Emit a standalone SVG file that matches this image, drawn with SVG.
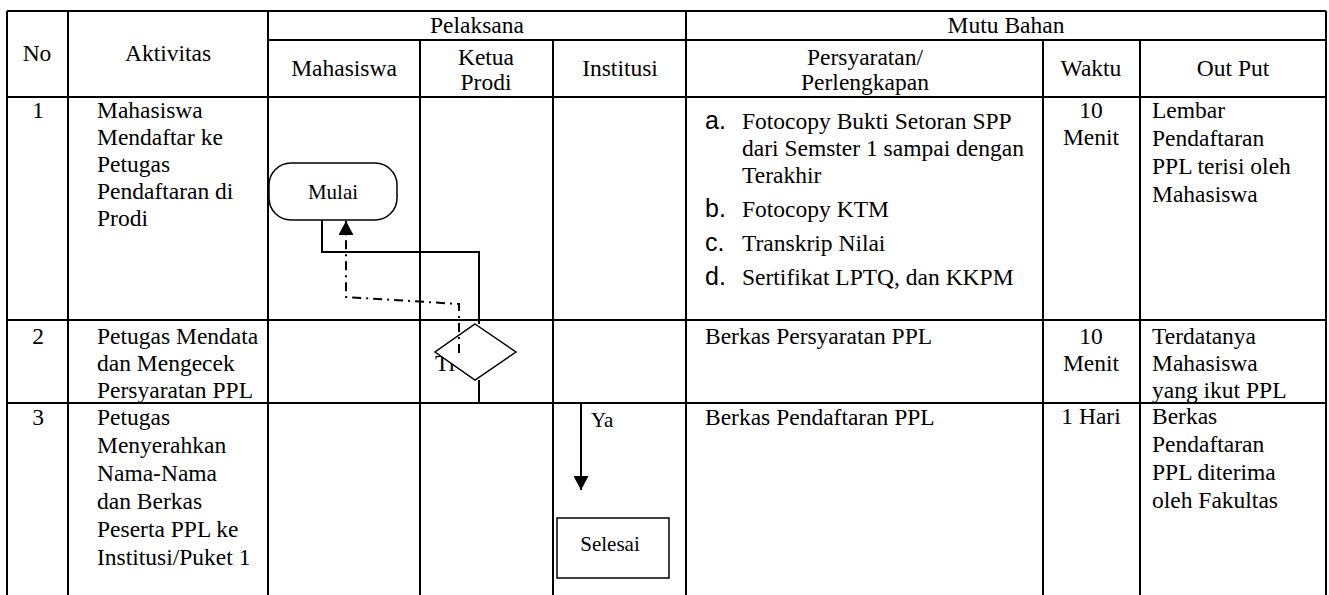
<svg xmlns="http://www.w3.org/2000/svg" width="1329" height="595" viewBox="0 0 1329 595">
<style>
text{font-family:"Liberation Serif","Times New Roman",serif;font-size:23.5px;fill:#000}
.c{text-anchor:middle}
.grid line{stroke:#000;stroke-width:2}
.mk{font-family:"Liberation Sans",Arial,sans-serif;font-size:25px}
.node{fill:#fff;stroke:#000;stroke-width:1.5}
.conn{fill:none;stroke:#000;stroke-width:2}
.dd{stroke-dasharray:9 5 2 5}
.sm{font-size:21px}
</style>
<defs>
<marker id="arr" viewBox="0 0 14 15" refX="14" refY="7.5" markerWidth="14" markerHeight="15" markerUnits="userSpaceOnUse" orient="auto"><path d="M0,0 L14,7.5 L0,15 z" fill="#000"/></marker>
</defs>
<rect width="1329" height="595" fill="#fff"/>
<g id="table" class="grid">
<line x1="7" y1="11" x2="1326" y2="11"/>
<line x1="268" y1="40" x2="1326" y2="40"/>
<line x1="7" y1="97" x2="1326" y2="97"/>
<line x1="7" y1="320" x2="1326" y2="320"/>
<line x1="7" y1="403" x2="1326" y2="403"/>
<line x1="7" y1="11" x2="7" y2="595"/>
<line x1="68" y1="11" x2="68" y2="595"/>
<line x1="268" y1="11" x2="268" y2="595"/>
<line x1="686" y1="11" x2="686" y2="595"/>
<line x1="1326" y1="11" x2="1326" y2="595"/>
<line x1="420" y1="40" x2="420" y2="595"/>
<line x1="553" y1="40" x2="553" y2="595"/>
<line x1="1043" y1="40" x2="1043" y2="595"/>
<line x1="1140" y1="40" x2="1140" y2="595"/>
</g>
<g id="header">
<text class="c" x="37" y="61">No</text>
<text class="c" x="168" y="61">Aktivitas</text>
<text class="c" x="477" y="33">Pelaksana</text>
<text class="c" x="1006" y="33">Mutu Bahan</text>
<text class="c" x="344" y="76">Mahasiswa</text>
<text class="c" x="486" y="65">Ketua</text>
<text class="c" x="486" y="90">Prodi</text>
<text class="c" x="620" y="76">Institusi</text>
<text class="c" x="865" y="65">Persyaratan/</text>
<text class="c" x="865" y="90">Perlengkapan</text>
<text class="c" x="1091" y="76">Waktu</text>
<text class="c" x="1233" y="76">Out Put</text>
</g>
<g id="row1">
<text class="c" x="38" y="118">1</text>
<text x="97" y="118">Mahasiswa</text>
<text x="97" y="145">Mendaftar ke</text>
<text x="97" y="172">Petugas</text>
<text x="97" y="199">Pendaftaran di</text>
<text x="97" y="226">Prodi</text>
<text class="mk" x="705" y="129">a.</text>
<text x="742" y="129">Fotocopy Bukti Setoran SPP</text>
<text x="742" y="156">dari Semster 1 sampai dengan</text>
<text x="742" y="183">Terakhir</text>
<text class="mk" x="705" y="217">b.</text>
<text x="742" y="217">Fotocopy KTM</text>
<text class="mk" x="705" y="251">c.</text>
<text x="742" y="251">Transkrip Nilai</text>
<text class="mk" x="705" y="285">d.</text>
<text x="742" y="285">Sertifikat LPTQ, dan KKPM</text>
<text class="c" x="1091" y="118">10</text>
<text class="c" x="1091" y="145">Menit</text>
<text x="1152" y="118">Lembar</text>
<text x="1152" y="146">Pendaftaran</text>
<text x="1152" y="174">PPL terisi oleh</text>
<text x="1152" y="202">Mahasiswa</text>
</g>
<g id="row2">
<text class="c" x="38" y="344">2</text>
<text x="97" y="344">Petugas Mendata</text>
<text x="97" y="371">dan Mengecek</text>
<text x="97" y="398">Persyaratan PPL</text>
<text x="705" y="344">Berkas Persyaratan PPL</text>
<text class="c" x="1091" y="344">10</text>
<text class="c" x="1091" y="371">Menit</text>
<text x="1152" y="344">Terdatanya</text>
<text x="1152" y="371">Mahasiswa</text>
<text x="1152" y="398">yang ikut PPL</text>
</g>
<g id="row3">
<text class="c" x="38" y="425">3</text>
<text x="97" y="425">Petugas</text>
<text x="97" y="453">Menyerahkan</text>
<text x="97" y="481">Nama-Nama</text>
<text x="97" y="509">dan Berkas</text>
<text x="97" y="537">Peserta PPL ke</text>
<text x="97" y="565">Institusi/Puket 1</text>
<text x="705" y="425">Berkas Pendaftaran PPL</text>
<text class="c" x="1091" y="424">1 Hari</text>
<text x="1152" y="424">Berkas</text>
<text x="1152" y="452">Pendaftaran</text>
<text x="1152" y="480">PPL diterima</text>
<text x="1152" y="508">oleh Fakultas</text>
</g>
<g id="connectors">
<path class="conn" d="M322,220 V252 H479 V324"/>
<path class="conn" d="M479,380 V403 H581 V490" marker-end="url(#arr)"/>
<text x="591" y="427" class="sm">Ya</text>
</g>
<g id="mulai">
<rect class="node" x="269" y="163" width="128" height="57" rx="22"/>
<text class="c sm" x="333" y="199">Mulai</text>
</g>
<g id="keputusan">
<text x="435" y="371">Ti</text>
<polygon class="node" points="475,324 516,352 475,380 435,352"/>
</g>
<g id="tidak-connector">
<path class="conn dd" d="M459,353 V304 L346,297 V221" marker-end="url(#arr)"/>
</g>
<g id="selesai">
<rect class="node" x="557" y="518" width="112" height="60"/>
<text class="c sm" x="610" y="551">Selesai</text>
</g>
</svg>
